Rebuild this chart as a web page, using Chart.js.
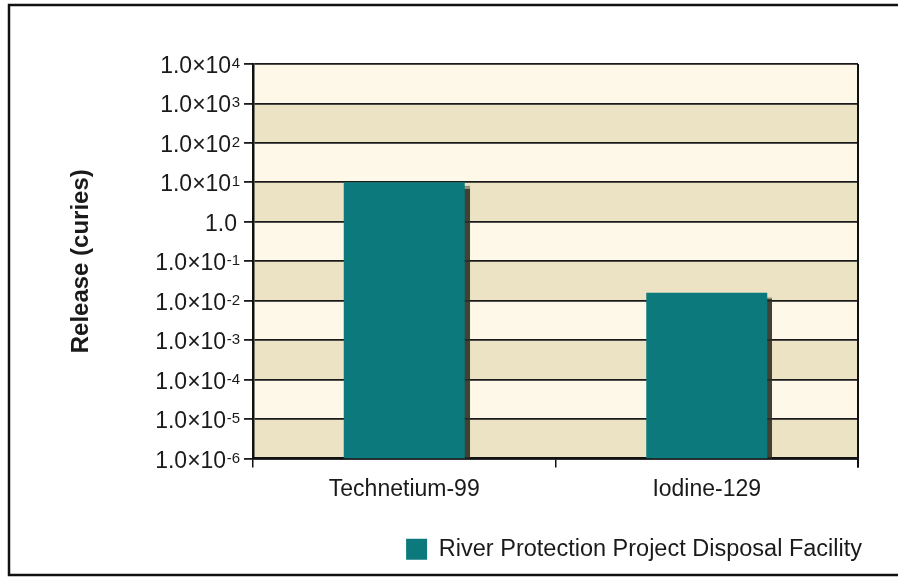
<!DOCTYPE html>
<html>
<head>
<meta charset="utf-8">
<script src="https://cdn.jsdelivr.net/npm/chart.js@4.4.1/dist/chart.umd.min.js"></script>
<style>
  html, body { margin: 0; padding: 0; background: #fff; }
  #wrap { width: 898px; height: 577px; position: relative; }
</style>
</head>
<body>
<div id="wrap"><canvas id="releaseChart"></canvas></div>
<script>
// dados do gráfico
const categories = ['Technetium-99', 'Iodine-129'];
const releaseValues = [10, 0.016];
const seriesName = 'River Protection Project Disposal Facility';
const tickValues = [1e-6, 1e-5, 1e-4, 1e-3, 1e-2, 1e-1, 1, 1e1, 1e2, 1e3, 1e4];
// rótulos: base + expoente (sobrescrito desenhado à parte)
const tickBases = ['1.0×10', '1.0×10', '1.0×10', '1.0×10', '1.0×10', '1.0×10',
                   '1.0', '1.0×10', '1.0×10', '1.0×10', '1.0×10'];
const tickExps = ['-6', '-5', '-4', '-3', '-2', '-1', '', '1', '2', '3', '4'];

const FONT = '"Liberation Sans", Arial, sans-serif';
const TEAL = '#0c7a7d';

function tickIndex(value) {
    return tickValues.findIndex(t => Math.abs(Math.log10(t) - Math.log10(value)) < 1e-6);
}

// faixas alternadas no fundo, rótulos do eixo y e moldura
const bandsPlugin = {
    id: 'bands',
    afterLayout(chart) {
        // empurra a legenda um pouco para a direita
        if (chart.legend) {
            chart.legend.left += 14;
            chart.legend.right += 14;
        }
    },
    beforeDraw(chart) {
        const { ctx, chartArea, scales } = chart;
        const y = scales.y;
        ctx.save();
        for (let i = 0; i < tickValues.length - 1; i++) {
            const yb = y.getPixelForValue(tickValues[i]);
            const yt = y.getPixelForValue(tickValues[i + 1]);
            ctx.fillStyle = (i % 2 === 0) ? '#ebe3c3' : '#fdf8e8';
            ctx.fillRect(chartArea.left, yt, chartArea.right - chartArea.left, yb - yt);
        }
        ctx.restore();
    },
    afterDraw(chart) {
        const { ctx, chartArea, scales } = chart;
        const y = scales.y;
        ctx.save();
        // rótulos com sobrescrito
        ctx.fillStyle = '#1a1a1a';
        ctx.textAlign = 'right';
        ctx.textBaseline = 'alphabetic';
        const xRight = chartArea.left - 13;
        tickValues.forEach((v, i) => {
            const gy = y.getPixelForValue(v);
            let x = xRight;
            if (tickExps[i]) {
                ctx.font = '15px ' + FONT;
                ctx.fillText(tickExps[i], x, gy + 4);
                x -= ctx.measureText(tickExps[i]).width + 0.5;
            } else {
                x -= 3;
            }
            ctx.font = '23px ' + FONT;
            ctx.fillText(tickBases[i], x, gy + 9);
        });

        ctx.strokeStyle = '#111';
        ctx.lineWidth = 2;
        ctx.beginPath();
        ctx.moveTo(chartArea.right, chartArea.top);
        ctx.lineTo(chartArea.right, chartArea.bottom + 9);
        ctx.stroke();
        // moldura externa
        ctx.lineWidth = 2.5;
        ctx.beginPath();
        ctx.moveTo(898, 5);
        ctx.lineTo(9, 5);
        ctx.lineTo(9, 575);
        ctx.lineTo(898, 575);
        ctx.stroke();
        ctx.restore();
    }
};

// sombra das barras
const shadowPlugin = {
    id: 'barShadow',
    beforeDatasetDraw(chart) {
        const ctx = chart.ctx;
        ctx.save();
        ctx.shadowColor = 'rgba(45,45,35,0.9)';
        ctx.shadowOffsetX = 5;
        ctx.shadowOffsetY = 4;
        ctx.shadowBlur = 1;
    },
    afterDatasetDraw(chart) {
        chart.ctx.restore();
    }
};

new Chart(document.getElementById('releaseChart'), {
    type: 'bar',
    data: {
        labels: categories,
        datasets: [{
            label: seriesName,
            data: releaseValues,
            backgroundColor: TEAL,
            borderWidth: 0,
            categoryPercentage: 1.0,
            barPercentage: 0.4
        }]
    },
    options: {
        responsive: true,
        maintainAspectRatio: false,
        animation: false,
        layout: { padding: { top: 64, right: 40, left: 0, bottom: 6 } },
        plugins: {
            legend: {
                position: 'bottom',
                align: 'end',
                labels: {
                    boxWidth: 21,
                    boxHeight: 21,
                    color: '#1a1a1a',
                    font: { family: FONT, size: 23.5 },
                    padding: 10
                }
            },
            tooltip: { enabled: false }
        },
        scales: {
            x: {
                grid: {
                    offset: true,
                    drawOnChartArea: false,
                    drawTicks: true,
                    tickLength: 9,
                    color: '#111',
                    lineWidth: 1.5
                },
                border: { display: true, color: '#111', width: 2.5 },
                ticks: {
                    color: '#1a1a1a',
                    font: { family: FONT, size: 23 },
                    padding: 8
                },
                afterFit(scale) { scale.height = 69; }
            },
            y: {
                type: 'logarithmic',
                min: 1e-6,
                max: 1e4,
                afterBuildTicks(scale) {
                    scale.ticks = tickValues.map(v => ({ value: v, major: true }));
                },
                afterFit(scale) { scale.width = 253; },
                grid: {
                    color: '#1a1a1a',
                    lineWidth: 1.8,
                    tickLength: 9
                },
                border: { display: true, color: '#111', width: 2.5 },
                ticks: {
                    // o texto é desenhado pelo plugin (com sobrescrito)
                    color: 'rgba(0,0,0,0)',
                    font: { family: FONT, size: 23 },
                    padding: 2,
                    autoSkip: false,
                    callback: function (value) {
                        const i = tickIndex(value);
                        return i >= 0 ? tickBases[i] + tickExps[i] : '';
                    }
                },
                title: {
                    display: true,
                    text: 'Release (curies)',
                    color: '#1a1a1a',
                    font: { family: FONT, size: 24, weight: 'bold' },
                    padding: { top: 67, bottom: 0 }
                }
            }
        }
    },
    plugins: [bandsPlugin, shadowPlugin]
});
</script>
</body>
</html>
